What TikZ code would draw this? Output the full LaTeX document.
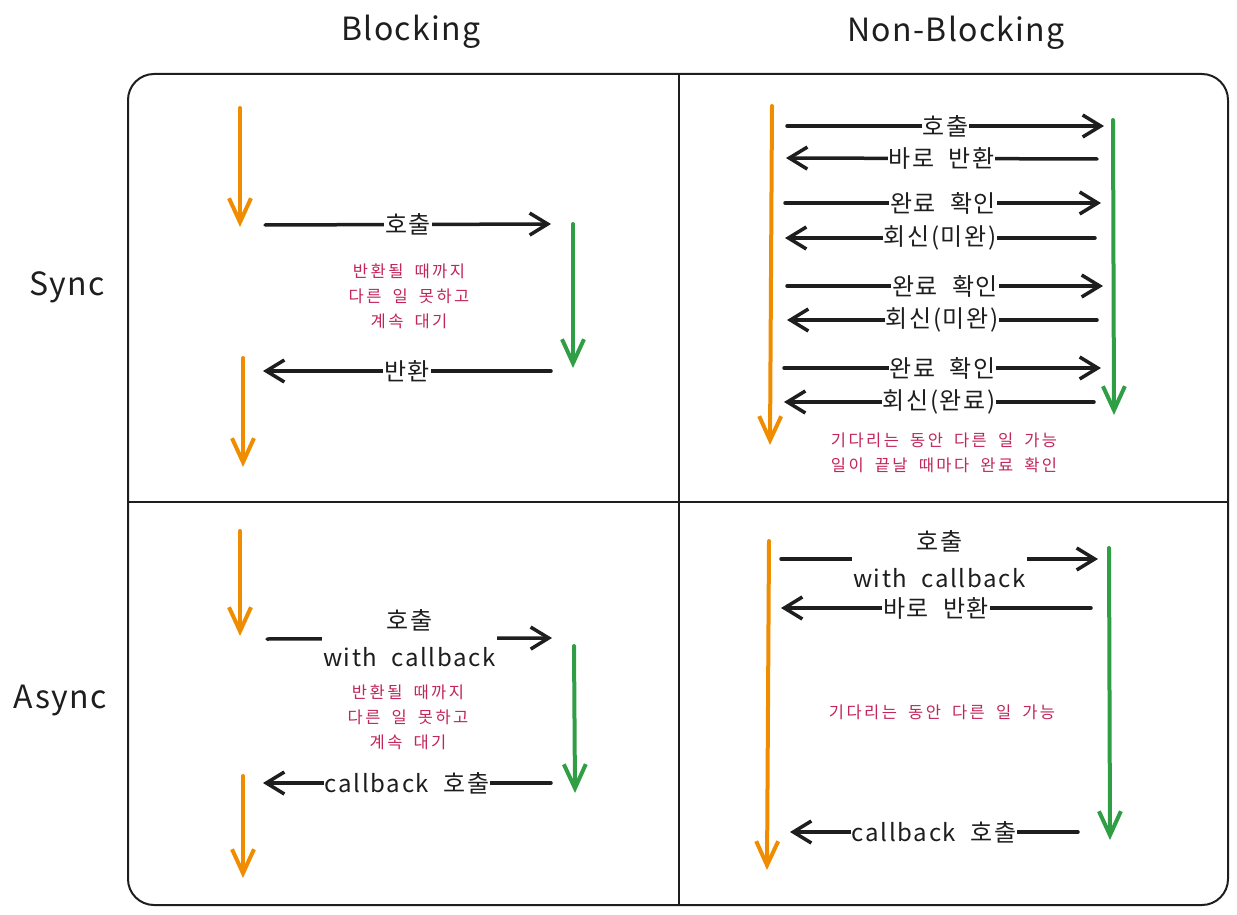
\documentclass[tikz,border=0pt]{standalone}
\usepackage{fontspec}
\setmainfont{Noto Sans CJK KR}
\newfontfamily\lblfont[LetterSpace=7,WordSpace=2]{Noto Sans CJK KR}
\newfontfamily\notefont[LetterSpace=15,WordSpace=1.8]{Noto Sans CJK KR}
\newfontfamily\hdrfont[LetterSpace=4]{Noto Sans CJK KR}
\usetikzlibrary{arrows.meta}
\definecolor{ink}{HTML}{1E1E1E}
\definecolor{orng}{HTML}{F08C00}
\definecolor{grn}{HTML}{2F9E44}
\definecolor{pnk}{HTML}{C2255C}
\begin{document}
\begin{tikzpicture}[x=1pt,y=-1pt,
  msg/.style={draw=ink,line width=3.5pt,line cap=round,-{Straight Barb[length=18pt,width=22pt,line width=3.5pt]}},
  life/.style={line width=4pt,line cap=round,-{Straight Barb[length=24pt,width=22pt,line width=4pt]}},
  olife/.style={life,draw=orng},
  glife/.style={life,draw=grn},
  lbl/.style={fill=white,text=ink,inner sep=1pt,font=\lblfont\fontsize{24}{26}\selectfont},
  lbl2/.style={lbl,align=center,font=\lblfont\fontsize{24}{37}\selectfont},
  note/.style={text=pnk,align=center,font=\notefont\fontsize{16.5}{25}\selectfont},
  hdr/.style={text=ink,font=\hdrfont\fontsize{32}{36}\selectfont},
  frame/.style={draw=ink,line width=2pt},
  divider/.style={draw=ink,line width=1.5pt}]
\useasboundingbox (0,0) rectangle (1237,915);

% headers
\node[hdr] (hB) at (411,32) {Blocking};
\node[hdr] (hN) at (956,33) {Non-Blocking};
\node[hdr] (hS) at (67,287) {Sync};
\node[hdr] (hA) at (60,701) {Async};

% frame
\draw[frame,rounded corners=26pt] (128,74) rectangle (1228,905);
\draw[divider] (679,74) -- (679,905);
\draw[divider] (128,502) -- (1228,502);

% ---------- Sync / Blocking ----------
\coordinate (a1t) at (240,108); \coordinate (a1b) at (240,227);
\draw[olife] (a1t) -- (a1b);
\coordinate (a2t) at (243,358); \coordinate (a2b) at (243,467);
\draw[olife] (a2t) -- (a2b);
\coordinate (agt) at (573,224); \coordinate (agb) at (573,368);
\draw[glife] (agt) -- (agb);
\coordinate (am1a) at (265,225); \coordinate (am1b) at (551,224);
\draw[msg] (am1a) -- node[lbl] (al1) {호출} (am1b);
\coordinate (am2a) at (551,371); \coordinate (am2b) at (263,371);
\draw[msg] (am2a) -- node[lbl] (al2) {반환} (am2b);
\node[note] (an) at (409,296) {반환될 때까지\\다른 일 못하고\\계속 대기};

% ---------- Sync / Non-Blocking ----------
\coordinate (bot) at (772,106); \coordinate (bob) at (770,445);
\draw[olife] (bot) -- (bob);
\coordinate (bgt) at (1113,120); \coordinate (bgb) at (1114,415);
\draw[glife] (bgt) -- (bgb);
\coordinate (b1a) at (787,126); \coordinate (b1b) at (1104,126);
\draw[msg] (b1a) -- node[lbl] (bl1) {호출} (b1b);
\coordinate (b2a) at (1097,159); \coordinate (b2b) at (786,158);
\draw[msg] (b2a) -- node[lbl] (bl2) {바로 반환} (b2b);
\coordinate (b3a) at (785,203); \coordinate (b3b) at (1101,203);
\draw[msg] (b3a) -- node[lbl] (bl3) {완료 확인} (b3b);
\coordinate (b4a) at (1095,238); \coordinate (b4b) at (785,238);
\draw[msg] (b4a) -- node[lbl] (bl4) {회신(미완)} (b4b);
\coordinate (b5a) at (787,286); \coordinate (b5b) at (1103,286);
\draw[msg] (b5a) -- node[lbl] (bl5) {완료 확인} (b5b);
\coordinate (b6a) at (1097,320); \coordinate (b6b) at (787,320);
\draw[msg] (b6a) -- node[lbl] (bl6) {회신(미완)} (b6b);
\coordinate (b7a) at (784,368); \coordinate (b7b) at (1101,368);
\draw[msg] (b7a) -- node[lbl] (bl7) {완료 확인} (b7b);
\coordinate (b8a) at (1094,402); \coordinate (b8b) at (784,402);
\draw[msg] (b8a) -- node[lbl] (bl8) {회신(완료)} (b8b);
\node[note] (bn) at (944,453) {기다리는 동안 다른 일 가능\\일이 끝날 때마다 완료 확인};

% ---------- Async / Blocking ----------
\coordinate (c1t) at (240,531); \coordinate (c1b) at (240,636);
\draw[olife] (c1t) -- (c1b);
\coordinate (c2t) at (243,776); \coordinate (c2b) at (243,878);
\draw[olife] (c2t) -- (c2b);
\coordinate (cgt) at (574,646); \coordinate (cgb) at (575,793);
\draw[glife] (cgt) -- (cgb);
\coordinate (cm1a) at (267,639); \coordinate (cm1b) at (552,638);
\draw[msg] (cm1a) -- node[lbl2] (cl1) {호출\\with callback} (cm1b);
\coordinate (cm2a) at (551,783); \coordinate (cm2b) at (263,783);
\draw[msg] (cm2a) -- node[lbl] (cl2) {callback 호출} (cm2b);
\node[note] (cn) at (408,717) {반환될 때까지\\다른 일 못하고\\계속 대기};

% ---------- Async / Non-Blocking ----------
\coordinate (dot) at (769,541); \coordinate (dob) at (767,870);
\draw[olife] (dot) -- (dob);
\coordinate (dgt) at (1109,548); \coordinate (dgb) at (1110,840);
\draw[glife] (dgt) -- (dgb);
\coordinate (d1a) at (781,559); \coordinate (d1b) at (1098,559);
\draw[msg] (d1a) -- node[lbl2] (dl1) {호출\\with callback} (d1b);
\coordinate (d2a) at (1091,608); \coordinate (d2b) at (781,608);
\draw[msg] (d2a) -- node[lbl] (dl2) {바로 반환} (d2b);
\coordinate (d3a) at (1078,832); \coordinate (d3b) at (790,832);
\draw[msg] (d3a) -- node[lbl] (dl3) {callback 호출} (d3b);
\node[note] (dn) at (942,712) {기다리는 동안 다른 일 가능};
\end{tikzpicture}
\end{document}
